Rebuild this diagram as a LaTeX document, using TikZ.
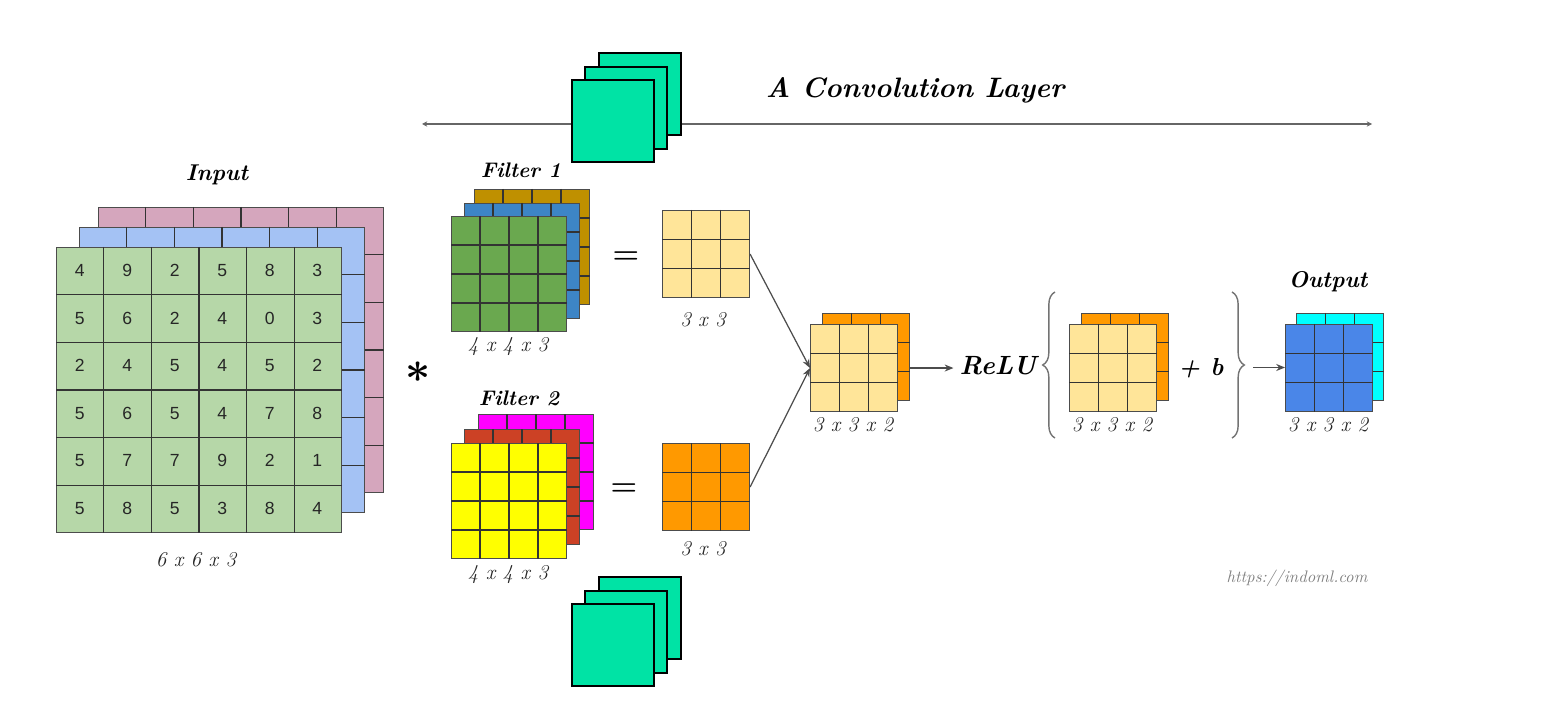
\documentclass[tikz,border=0pt]{standalone}
\usepackage{fontspec}
\usepackage{amsmath}
\usepackage{tikz}
\usetikzlibrary{calc,arrows.meta,decorations.pathreplacing}
\newfontfamily\numfont{Liberation Sans}

\definecolor{ingreen}{HTML}{B6D7A8}
\definecolor{inblue}{HTML}{A4C2F4}
\definecolor{inpink}{HTML}{D5A6BD}
\definecolor{fgreen}{HTML}{6AA84F}
\definecolor{fblue}{HTML}{3D85C6}
\definecolor{fgold}{HTML}{BF9000}
\definecolor{fyellow}{HTML}{FFFF00}
\definecolor{fred}{HTML}{CC4125}
\definecolor{fmagenta}{HTML}{FF00FF}
\definecolor{lightyel}{HTML}{FFE599}
\definecolor{orangec}{HTML}{FF9900}
\definecolor{outblue}{HTML}{4A86E8}
\definecolor{outcyan}{HTML}{00FFFF}
\definecolor{tealc}{HTML}{00E3A5}

\tikzset{
  cell/.style={draw=black!70, line width=0.6pt, inner sep=0pt, anchor=north west},
  gridline/.style={black!80, line width=0.8pt},
  digit/.style={font=\numfont\fontsize{10}{12}\selectfont, text=black!85},
  lbl/.style={font=\fontsize{12}{14}\selectfont\itshape, text=black!85},
  title/.style={font=\fontsize{13}{15}\selectfont\bfseries\itshape},
  tealbox/.style={draw=black, line width=1pt, fill=tealc, inner sep=0pt, minimum size=1.64cm, anchor=north west},
  conn/.style={-{Stealth[length=5pt,width=4pt]}, black!70, line width=0.7pt},
  curly/.style={decorate, decoration={brace, amplitude=7pt}, black!55, line width=0.8pt},
}

% one layer: name, left, top, cells, cell size, fill
\newcommand{\gridlayer}[6]{%
  \node[cell, fill=#6, minimum width=#4*#5*0.02cm, minimum height=#4*#5*0.02cm] (#1) at (#2,#3) {};
  \pgfmathtruncatemacro{\lastk}{#4-1}
  \foreach \k in {1,...,\lastk}{
    \draw[gridline] ($(#1.north west)!\k/#4!(#1.north east)$) -- ($(#1.south west)!\k/#4!(#1.south east)$);
    \draw[gridline] ($(#1.north west)!\k/#4!(#1.south west)$) -- ($(#1.north east)!\k/#4!(#1.south east)$);
  }
}

\begin{document}
\begin{tikzpicture}[x=0.02cm, y=-0.02cm]
  \useasboundingbox (0,0) rectangle (1559,716);

  % title line
  \coordinate (cl) at (422,124);
  \coordinate (cr) at (1372,124);
  \draw[{Stealth[length=3pt,width=3pt]}-{Stealth[length=3pt,width=3pt]}, black!60, line width=0.8pt] (cl) -- (cr);
  \node[font=\fontsize{16}{18}\selectfont\bfseries\itshape] (layer) at (915,90) {A Convolution Layer};

  \node[tealbox] (t3) at (598,52) {};
  \node[tealbox] (t2) at (584,66) {};
  \node[tealbox] (t1) at (571,79) {};
  \node[tealbox] (b3) at (598,576) {};
  \node[tealbox] (b2) at (584,590) {};
  \node[tealbox] (b1) at (571,603) {};

  % input
  \gridlayer{in3}{98}{207}{6}{47.5}{inpink}
  \gridlayer{in2}{79}{227}{6}{47.5}{inblue}
  \gridlayer{in1}{56}{247}{6}{47.5}{ingreen}
  \foreach \row [count=\r] in {{4,9,2,5,8,3},{5,6,2,4,0,3},{2,4,5,4,5,2},{5,6,5,4,7,8},{5,7,7,9,2,1},{5,8,5,3,8,4}}
    \foreach \v [count=\c] in \row
      \node[digit] (v\r\c) at ($(in1.north west)+({(\c-0.5)*47.5},{(\r-0.5)*47.5})$) {\v};
  \node[title] (inlbl) at (217,175) {Input};
  \node[lbl] (insz) at (196,560) {6 x 6 x 3};

  \node[font=\fontsize{30}{30}\selectfont] (star) at (418,372) {$\boldsymbol{\ast}$};

  % filter 1
  \gridlayer{fa3}{474}{189}{4}{28.75}{fgold}
  \gridlayer{fa2}{464}{203}{4}{28.75}{fblue}
  \gridlayer{fa1}{451}{216}{4}{28.75}{fgreen}
  \node[title, font=\fontsize{12}{14}\selectfont\bfseries\itshape] (falbl) at (521,170) {Filter 1};
  \node[lbl] (fasz) at (508,347) {4 x 4 x 3};
  \node[font=\fontsize{18}{18}\selectfont] (eqa) at (626,258) {$\boldsymbol{=}$};
  \gridlayer{oa}{662}{210}{3}{29}{lightyel}
  \node[lbl] (oasz) at (703,320) {3 x 3};

  % filter 2
  \gridlayer{fb3}{478}{414}{4}{28.75}{fmagenta}
  \gridlayer{fb2}{464}{429}{4}{28.75}{fred}
  \gridlayer{fb1}{451}{443}{4}{28.75}{fyellow}
  \node[title, font=\fontsize{12}{14}\selectfont\bfseries\itshape] (fblbl) at (519,398) {Filter 2};
  \node[lbl] (fbsz) at (508,575) {4 x 4 x 3};
  \node[font=\fontsize{18}{18}\selectfont] (eqb) at (624,490) {$\boldsymbol{=}$};
  \gridlayer{ob}{662}{443}{3}{29}{orangec}
  \node[lbl] (obsz) at (703,549) {3 x 3};

  % stacked result
  \gridlayer{mg2}{822}{313}{3}{29}{orangec}
  \gridlayer{mg1}{810}{324}{3}{29}{lightyel}
  \node[lbl] (mgsz) at (853,425) {3 x 3 x 2};
  \draw[conn] (oa.east) -- (mg1.west);
  \draw[conn] (ob.east) -- (mg1.west);

  \node[font=\fontsize{15}{17}\selectfont\bfseries\itshape] (relu) at (998,366) {ReLU};
  \draw[conn] (mg2.east |- mg1.east) -- (relu.west |- mg1.east);

  % bias
  \coordinate (lbb) at (1055,438);
  \coordinate (lbt) at (1055,292);
  \coordinate (rbt) at (1232,292);
  \coordinate (rbb) at (1232,438);
  \draw[curly] (lbb) -- (lbt);
  \draw[curly] (rbt) -- (rbb);
  \gridlayer{bs2}{1081}{313}{3}{29}{orangec}
  \gridlayer{bs1}{1069}{324}{3}{29}{lightyel}
  \node[lbl] (bssz) at (1112,425) {3 x 3 x 2};
  \node[font=\fontsize{14}{16}\selectfont\bfseries\itshape] (plusb) at (1201,368) {+ b};

  % output
  \gridlayer{ou2}{1296}{313}{3}{29}{outcyan}
  \gridlayer{ou1}{1285}{324}{3}{29}{outblue}
  \node[title] (oulbl) at (1328,282) {Output};
  \node[lbl] (ousz) at (1328,425) {3 x 3 x 2};
  \coordinate (rbo) at (1253,367.5);
  \draw[conn] (rbo) -- (rbo -| ou1.west);

  \node[font=\fontsize{9.5}{11}\selectfont\itshape, text=black!50] (url) at (1297,578) {https://indoml.com};
\end{tikzpicture}
\end{document}
